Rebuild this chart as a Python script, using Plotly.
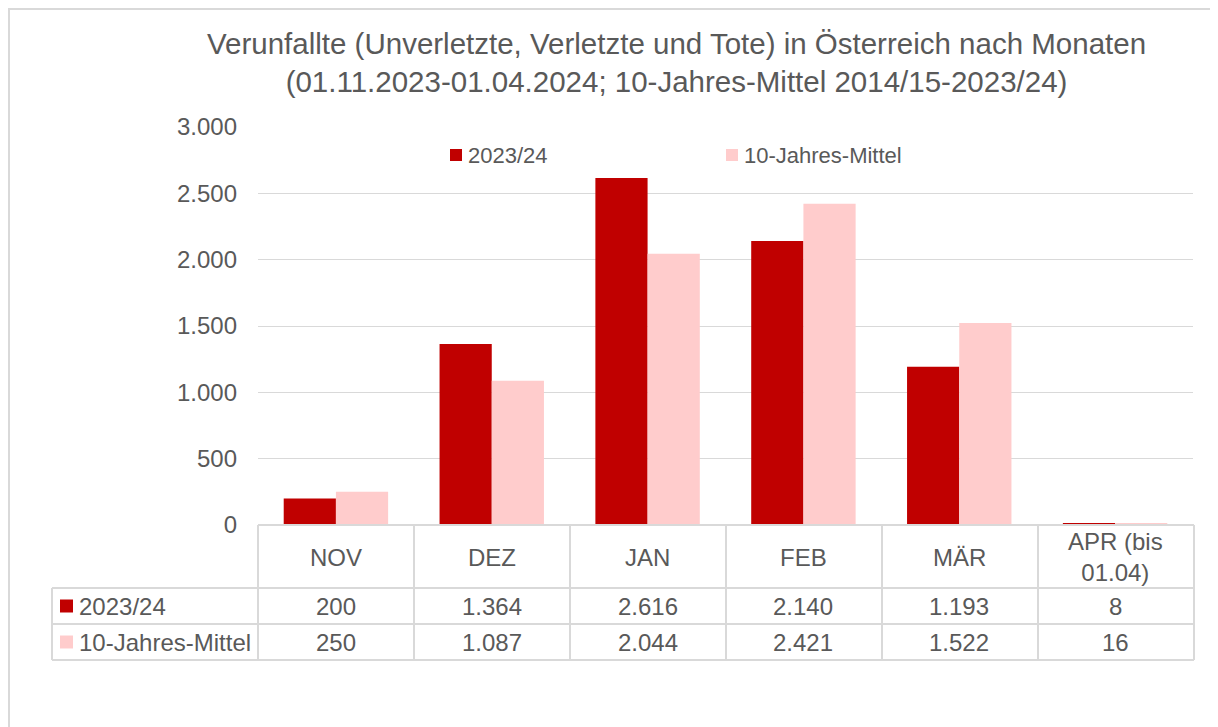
import plotly.graph_objects as go

months = ["NOV", "DEZ", "JAN", "FEB", "MÄR", "APR (bis<br>01.04)"]
series_names = ["2023/24", "10-Jahres-Mittel"]
values_2324 = [200, 1364, 2616, 2140, 1193, 8]
values_mittel = [250, 1087, 2044, 2421, 1522, 16]
colors = ["#C00000", "#FFCCCC"]
y_ticks = [0, 500, 1000, 1500, 2000, 2500, 3000]

SCREEN_W, SCREEN_H = 1218, 727
OFF = 8  # page body margin offset
W, H = SCREEN_W - OFF, SCREEN_H - OFF
L, R, T, B = 258, 1193, 127, 525  # plot area in screen pixels
FONT = "Liberation Sans, Arial, sans-serif"
TXT = "#595959"
GRID = "#D9D9D9"


def px(x):
    return (x - L) / (R - L)


def py(y):
    return (B - y) / (B - T)


def fmt(v):
    return f"{v:,}".replace(",", ".")


fig = go.Figure()
for name, vals, col in zip(series_names, [values_2324, values_mittel], colors):
    fig.add_trace(go.Bar(x=months, y=vals, name=name, marker=dict(color=col, line=dict(width=0)),
                         showlegend=False))

shapes = []
annotations = []

# outer chart border (as close to the figure's top-left edge as possible)
shapes.append(dict(type="rect", xref="paper", yref="paper", x0=px(9), x1=px(1240), y0=py(9), y1=py(745),
                   line=dict(color=GRID, width=2), fillcolor="rgba(0,0,0,0)", layer="below"))

# title
annotations.append(dict(xref="paper", yref="paper", x=px(676), y=py(63), xanchor="center", yanchor="middle",
                        text="Verunfallte (Unverletzte, Verletzte und Tote) in Österreich nach Monaten<br>"
                             "(01.11.2023-01.04.2024; 10-Jahres-Mittel 2014/15-2023/24)",
                        showarrow=False, font=dict(family=FONT, size=29.5, color=TXT)))

# legend (top)
for (x0, name, col) in [(450, series_names[0], colors[0]), (726, series_names[1], colors[1])]:
    shapes.append(dict(type="rect", xref="paper", yref="paper", x0=px(x0), x1=px(x0 + 12),
                       y0=py(149), y1=py(161), fillcolor=col, line=dict(width=0)))
    annotations.append(dict(xref="paper", yref="paper", x=px(x0 + 16), y=py(155), xanchor="left",
                            yanchor="middle", text=name, showarrow=False,
                            font=dict(family=FONT, size=22, color=TXT)))

# data table
col_edges = [L + i * (1194 - L) / 6 for i in range(7)]
row_top, row_h1, row_h2, row_bot = 525, 588, 624, 660
line = dict(color=GRID, width=2)
shapes.append(dict(type="line", xref="paper", yref="paper", x0=px(L), x1=px(1194), y0=py(row_top), y1=py(row_top), line=line))
for yy in [row_h1, row_h2, row_bot]:
    shapes.append(dict(type="line", xref="paper", yref="paper", x0=px(52), x1=px(1194), y0=py(yy), y1=py(yy), line=line))
shapes.append(dict(type="line", xref="paper", yref="paper", x0=px(52), x1=px(52), y0=py(row_h1), y1=py(row_bot), line=line))
for xx in col_edges:
    shapes.append(dict(type="line", xref="paper", yref="paper", x0=px(xx), x1=px(xx), y0=py(row_top), y1=py(row_bot), line=line))

for m in months:
    annotations.append(dict(xref="x", yref="paper", x=m, y=py(557), xanchor="center", yanchor="middle",
                            text=m, showarrow=False, font=dict(family=FONT, size=24, color=TXT)))

for (ycen, name, col, vals) in [(606, series_names[0], colors[0], values_2324),
                                (642, series_names[1], colors[1], values_mittel)]:
    shapes.append(dict(type="rect", xref="paper", yref="paper", x0=px(60), x1=px(73),
                       y0=py(ycen - 6.5), y1=py(ycen + 6.5), fillcolor=col, line=dict(width=0)))
    annotations.append(dict(xref="paper", yref="paper", x=px(77), y=py(ycen), xanchor="left", yanchor="middle",
                            text=name, showarrow=False, font=dict(family=FONT, size=24, color=TXT)))
    for m, v in zip(months, vals):
        annotations.append(dict(xref="x", yref="paper", x=m, y=py(ycen), xanchor="center", yanchor="middle",
                                text=fmt(v), showarrow=False, font=dict(family=FONT, size=24, color=TXT)))

fig.update_layout(
    width=W, height=H,
    margin=dict(l=L - OFF, r=W - (R - OFF), t=T - OFF, b=H - (B - OFF), pad=0),
    paper_bgcolor="white", plot_bgcolor="white",
    barmode="group", bargap=0.33, bargroupgap=0,
    separators=",.",
    shapes=shapes, annotations=annotations,
    font=dict(family=FONT, size=24, color=TXT),
)
fig.update_xaxes(showticklabels=False, showgrid=False, showline=False, zeroline=False, ticks="")
fig.update_yaxes(range=[0, 3000], tickvals=y_ticks, ticktext=[fmt(v) for v in y_ticks],
                 showgrid=True, gridcolor=GRID, gridwidth=1, zeroline=False, showline=False, ticks="",
                 ticklabelstandoff=20, tickfont=dict(family=FONT, size=24, color=TXT))

fig.write_html("out.html")
